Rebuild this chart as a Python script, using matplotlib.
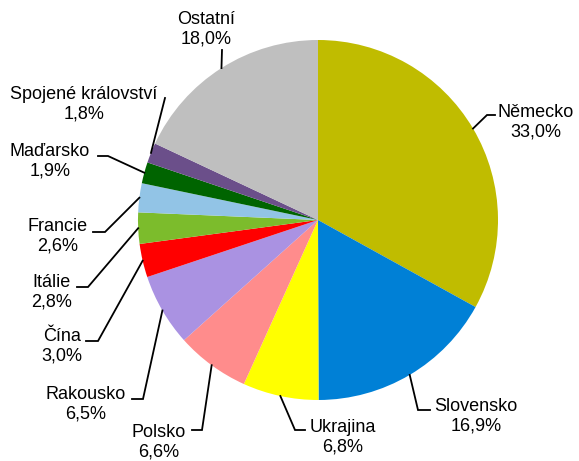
import numpy as np
import matplotlib
matplotlib.use("Agg")
import matplotlib.pyplot as plt

plt.rcParams['font.family'] = ['Liberation Sans', 'DejaVu Sans']

countries = ["Německo", "Slovensko", "Ukrajina", "Polsko", "Rakousko", "Čína",
             "Itálie", "Francie", "Maďarsko", "Spojené království", "Ostatní"]
shares = [33.0, 16.9, 6.8, 6.6, 6.5, 3.0, 2.8, 2.6, 1.9, 1.8, 18.0]
pct_labels = ["33,0%", "16,9%", "6,8%", "6,6%", "6,5%", "3,0%", "2,8%", "2,6%",
              "1,9%", "1,8%", "18,0%"]
colors = ["#C0BC00", "#0080D6", "#FFFF00", "#FF8C8C", "#AA92E2", "#FF0000",
          "#7CBC2C", "#92C4E6", "#006400", "#6B4F8A", "#BFBFBF"]

# layout (pixel coordinates, y measured from top)
W, H = 579, 461
center_px = (318, 220)
radius_px = 180
label_pos = [(536, 122.5), (476, 416), (343, 437), (159, 442), (86, 404.5),
             (62, 346), (52, 292), (58, 236.5), (50, 161), (84, 104), (206, 29.5)]
bends = [((487, 115), (495, 115)), ((418, 410), (430, 410)), ((295, 430), (305, 430)),
         ((202, 430), (192, 430)), ((143, 399), (132, 399)), ((98, 341), (86, 341)),
         ((88, 287), (77, 287)), ((105, 232), (93, 232)), ((108, 156), (98, 156)),
         ((165, 98), (165, 98)), ((222, 50), (222, 50))]

fig = plt.figure(figsize=(W / 100, H / 100), dpi=100)
ax = fig.add_axes([0, 0, 1, 1])
cx, cy = center_px[0], H - center_px[1]
wedges, _ = ax.pie(shares, colors=colors, startangle=90, counterclock=False,
                   center=(cx, cy), radius=radius_px,
                   wedgeprops=dict(linewidth=0))
ax.set_xlim(0, W)
ax.set_ylim(0, H)
ax.set_aspect("equal")
ax.axis("off")

for w, name, pct, (lx, ly), (b, e) in zip(wedges, countries, pct_labels, label_pos, bends):
    mid = np.deg2rad((w.theta1 + w.theta2) / 2)
    ax_x = cx + radius_px * np.cos(mid)
    ax_y = cy + radius_px * np.sin(mid)
    ax.plot([ax_x, b[0], e[0]], [ax_y, H - b[1], H - e[1]], color="black",
            lw=1.3, solid_joinstyle="miter", zorder=3)
    ax.text(lx, H - ly, f"{name}\n{pct}", ha="center", va="center",
            fontsize=13, linespacing=1.2, color="#000000")

fig.savefig("out.png", dpi=100)
